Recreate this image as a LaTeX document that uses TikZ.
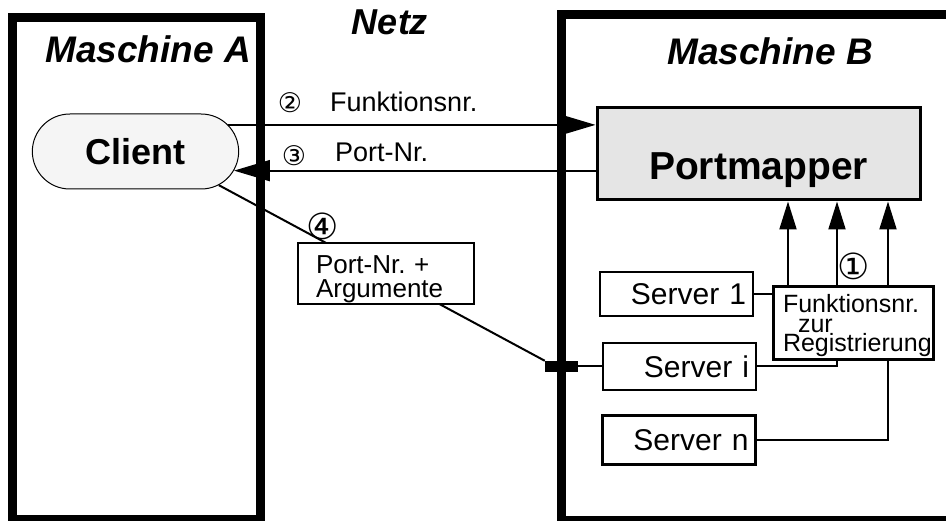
\documentclass[tikz,border=0pt]{standalone}
\usepackage{fontspec}
\setmainfont{Liberation Sans}
\newfontfamily\circfont{DejaVu Sans}
\usetikzlibrary{arrows.meta,shapes.misc,calc}
\frenchspacing
\begin{document}
\begin{tikzpicture}[x=1pt,y=-1pt,
  machine/.style={draw, line width=9pt, inner sep=0pt},
  titletext/.style={font=\fontsize{37}{40}\selectfont\bfseries\itshape, anchor=base, inner sep=0pt},
  srv/.style={draw, line width=2.5pt, fill=white, text width=139pt, align=right,
    inner xsep=7pt, inner ysep=0pt, font=\fontsize{30}{32}\selectfont},
  conn/.style={line width=2pt},
  bigarrow/.style={conn, -{Triangle[length=36pt,width=21pt]}},
  regarrow/.style={conn, -{Triangle[length=28pt,width=17pt]}},
  smallnum/.style={font=\circfont\fontsize{27}{27}\selectfont, inner sep=0pt},
  bignum/.style={font=\circfont\fontsize{36}{36}\selectfont, inner sep=0pt},
  lbl/.style={font=\fontsize{27}{28}\selectfont, anchor=base west, inner sep=0pt},
  infobox/.style={draw, fill=white, align=left, inner ysep=0pt}
]
\useasboundingbox (0,0) rectangle (946,521);

% machines
\node[machine, minimum width=248pt, minimum height=502pt] (mA) at (136.5,268.5) {};
\node[machine, minimum width=399pt, minimum height=505pt] (mB) at (761,267.5) {};

% titles
\node[titletext] (tA) at (148,63) {Maschine A};
\node[titletext] (tB) at (770,65) {Maschine B};
\node[titletext, font=\fontsize{36}{40}\selectfont\bfseries\itshape] (tN) at (390,35) {Netz};

% client and portmapper
\node[rounded rectangle, draw, line width=1pt, fill=black!4, minimum width=213pt,
  minimum height=75pt, font=\fontsize{36}{40}\selectfont\bfseries] (client) at (135.5,151.5) {Client};
\node[draw, line width=3pt, fill=black!10, minimum width=323pt, minimum height=92pt,
  inner sep=0pt, text height=60pt, text depth=8pt,
  font=\fontsize{39}{40}\selectfont\bfseries] (pm) at (758.5,154) {Portmapper};

% servers
\node[srv, minimum height=44pt] (s1) at (676.5,294) {Server 1};
\node[srv, minimum height=47pt] (si) at (679.5,366.5) {Server i};
\node[srv, minimum height=49pt] (sn) at (679,440) {Server n};

% bar on the machine border
\node[fill=black, draw=none, minimum width=33pt, minimum height=11pt, inner sep=0pt] (bar) at (561.5,366.5) {};

% anchor points under portmapper
\path (pm.south) ++(29.5,0) coordinate (p1);
\path (pm.south) ++(78.5,0) coordinate (p2);
\path (pm.south) ++(129.5,0) coordinate (p3);

% connectors
\draw[regarrow] (s1.east) -| (p1);
\draw[regarrow] (si.east) -| (p2);
\draw[regarrow] (sn.east) -| (p3);
\draw[bigarrow] (client.16) -- (client.16 -| pm.west);
\draw[bigarrow] (client.-11 -| pm.west) -- (client.-11);
\draw[conn] (client.-22) -- (bar.north west);
\draw[conn] (bar.east) -- (si.west);

% boxes on top of lines
\node[infobox, line width=2pt, minimum width=176pt, minimum height=61pt, text width=140pt,
  inner xsep=18pt, font=\fontsize{26}{24}\selectfont] (args) at (386,273.5)
  {\rule{0pt}{30pt}Port-Nr. +\\Argumente};
\node[infobox, line width=3pt, minimum width=160pt, minimum height=73pt, text width=140pt,
  inner xsep=10pt, font=\fontsize{25}{19.5}\selectfont] (reg) at (853,323.5)
  {\rule{0pt}{23pt}Funktionsnr.\\\hspace*{15pt}zur\\Registrierung};

% labels
\node[smallnum] (n2) at (290,103) {②};
\node[smallnum] (n3) at (294,156) {③};
\node[bignum] (n1) at (854,266) {①};
\node[bignum] (n4) at (323,226) {④};
\node[lbl] (l2) at (330,112) {Funktionsnr.};
\node[lbl] (l3) at (335,162) {Port-Nr.};
\end{tikzpicture}
\end{document}
